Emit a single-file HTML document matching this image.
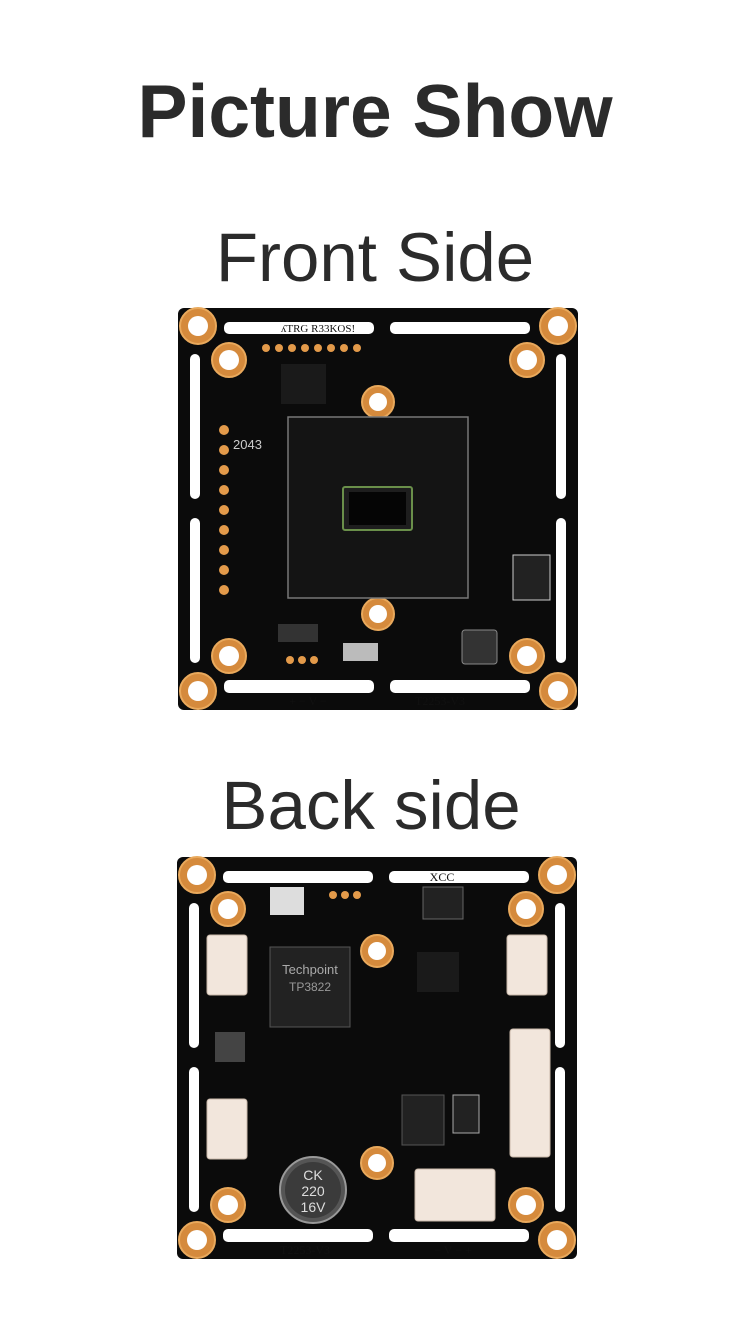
<!DOCTYPE html>
<html><head><meta charset="utf-8"><style>
html,body{margin:0;padding:0;background:#fff;}
body{width:750px;height:1336px;position:relative;overflow:hidden;font-family:"Liberation Sans",sans-serif;color:#2b2b2b;}
.t{position:absolute;left:0;width:750px;text-align:center;}
</style></head><body>
<div class="t" style="top:68px;font-size:75px;font-weight:bold;">Picture Show</div>
<div class="t" style="top:218px;font-size:69px;">Front Side</div>
<div class="t" style="top:766px;font-size:69px;padding-right:8px;box-sizing:border-box;">Back side</div>

<svg width="750" height="1336" style="position:absolute;left:0;top:0">
<defs>
<g id="board">
  <rect x="0" y="0" width="400" height="402" rx="6" fill="#0b0b0b"/>
  <rect x="46" y="14" width="150" height="12" rx="5" fill="#fff"/>
  <rect x="212" y="14" width="140" height="12" rx="5" fill="#fff"/>
  <rect x="46" y="372" width="150" height="13" rx="5" fill="#fff"/>
  <rect x="212" y="372" width="140" height="13" rx="5" fill="#fff"/>
  <rect x="12" y="46" width="10" height="145" rx="5" fill="#fff"/>
  <rect x="12" y="210" width="10" height="145" rx="5" fill="#fff"/>
  <rect x="378" y="46" width="10" height="145" rx="5" fill="#fff"/>
  <rect x="378" y="210" width="10" height="145" rx="5" fill="#fff"/>
  <g fill="#d58a3c" stroke="#e9a95c" stroke-width="2">
    <circle cx="20" cy="18" r="18"/><circle cx="380" cy="18" r="18"/>
    <circle cx="20" cy="383" r="18"/><circle cx="380" cy="383" r="18"/>
    <circle cx="51" cy="52" r="17"/><circle cx="349" cy="52" r="17"/>
    <circle cx="51" cy="348" r="17"/><circle cx="349" cy="348" r="17"/>
    <circle cx="200" cy="94" r="16"/><circle cx="200" cy="306" r="16"/>
  </g>
  <g fill="#fff">
    <circle cx="20" cy="18" r="10"/><circle cx="380" cy="18" r="10"/>
    <circle cx="20" cy="383" r="10"/><circle cx="380" cy="383" r="10"/>
    <circle cx="51" cy="52" r="10"/><circle cx="349" cy="52" r="10"/>
    <circle cx="51" cy="348" r="10"/><circle cx="349" cy="348" r="10"/>
    <circle cx="200" cy="94" r="9"/><circle cx="200" cy="306" r="9"/>
  </g>
</g>
</defs>

<g transform="translate(178,308)">
  <use href="#board"/>
  <rect x="110" y="109" width="180" height="181" fill="#141414" stroke="#777" stroke-width="1.5"/>
  <rect x="165" y="179" width="69" height="43" rx="2" fill="#1e1e1e" stroke="#6a8f4a" stroke-width="2"/>
  <rect x="171" y="184" width="57" height="33" fill="#050505"/>
  <rect x="103" y="56" width="45" height="40" fill="#1a1a1a"/>
  <g fill="#e39a4a">
    <circle cx="46" cy="122" r="5"/><circle cx="46" cy="142" r="5"/><circle cx="46" cy="162" r="5"/>
    <circle cx="46" cy="182" r="5"/><circle cx="46" cy="202" r="5"/><circle cx="46" cy="222" r="5"/>
    <circle cx="46" cy="242" r="5"/><circle cx="46" cy="262" r="5"/><circle cx="46" cy="282" r="5"/>
    <circle cx="88" cy="40" r="4"/><circle cx="101" cy="40" r="4"/><circle cx="114" cy="40" r="4"/>
    <circle cx="127" cy="40" r="4"/><circle cx="140" cy="40" r="4"/><circle cx="153" cy="40" r="4"/>
    <circle cx="166" cy="40" r="4"/><circle cx="179" cy="40" r="4"/>
    <circle cx="112" cy="352" r="4"/><circle cx="124" cy="352" r="4"/><circle cx="136" cy="352" r="4"/>
  </g>
  <rect x="100" y="316" width="40" height="18" fill="#333"/>
  <rect x="165" y="335" width="35" height="18" fill="#bbb"/>
  <rect x="284" y="322" width="35" height="34" rx="3" fill="#333" stroke="#888"/>
  <rect x="335" y="247" width="37" height="45" fill="#222" stroke="#ccc"/>
  <text x="140" y="24" font-size="11" fill="#111" text-anchor="middle" font-family="Liberation Serif">ʎTRG R33KOS!</text>
  <text x="130" y="397" font-size="12" fill="#111" text-anchor="middle" font-family="Liberation Serif">+ − V −</text>
  <text x="262" y="397" font-size="12" fill="#111" text-anchor="middle" font-family="Liberation Serif">T2253-V3</text>
  <text x="55" y="141" font-size="13" fill="#ccc">2043</text>
</g>

<g transform="translate(177,857)">
  <use href="#board"/>
  <rect x="93" y="90" width="80" height="80" fill="#222" stroke="#555"/>
  <text x="133" y="117" font-size="13" fill="#aaa" text-anchor="middle">Techpoint</text>
  <text x="133" y="134" font-size="12" fill="#999" text-anchor="middle">TP3822</text>
  <rect x="93" y="30" width="34" height="28" fill="#ddd"/>
  <rect x="246" y="30" width="40" height="32" fill="#222" stroke="#666"/>
  <rect x="240" y="95" width="42" height="40" fill="#1a1a1a"/>
  <rect x="225" y="238" width="42" height="50" fill="#222" stroke="#555"/>
  <rect x="276" y="238" width="26" height="38" fill="#222" stroke="#aaa"/>
  <rect x="38" y="175" width="30" height="30" fill="#444"/>
  <g fill="#f2e6dc" stroke="#c9b8aa">
    <rect x="30" y="78" width="40" height="60" rx="3"/>
    <rect x="30" y="242" width="40" height="60" rx="3"/>
    <rect x="330" y="78" width="40" height="60" rx="3"/>
    <rect x="333" y="172" width="40" height="128" rx="3"/>
    <rect x="238" y="312" width="80" height="52" rx="3"/>
  </g>
  <circle cx="136" cy="333" r="33" fill="#555" stroke="#999" stroke-width="2"/>
  <circle cx="136" cy="333" r="28" fill="#3b3b3b"/>
  <text x="136" y="323" font-size="14" fill="#ddd" text-anchor="middle">CK</text>
  <text x="136" y="339" font-size="14" fill="#ddd" text-anchor="middle">220</text>
  <text x="136" y="355" font-size="14" fill="#ddd" text-anchor="middle">16V</text>
  <g fill="#e39a4a">
    <circle cx="156" cy="38" r="4"/><circle cx="168" cy="38" r="4"/><circle cx="180" cy="38" r="4"/>
  </g>
  <text x="265" y="24" font-size="12" fill="#111" text-anchor="middle" font-family="Liberation Serif">XCC</text>
  <text x="128" y="397" font-size="12" fill="#111" text-anchor="middle" font-family="Liberation Serif">T2253-V3</text>
  <text x="276" y="397" font-size="12" fill="#111" text-anchor="middle" font-family="Liberation Serif">− V − +</text>
</g>
</svg>
</body></html>
